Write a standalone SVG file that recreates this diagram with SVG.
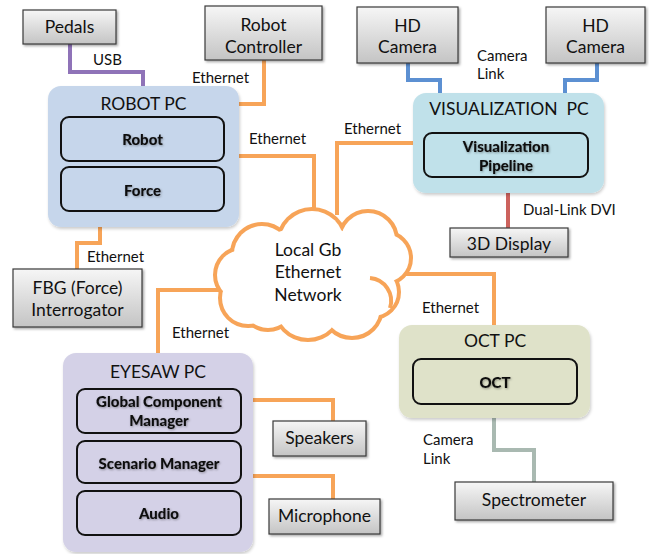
<svg xmlns="http://www.w3.org/2000/svg" width="649" height="554" viewBox="0 0 649 554">
  <defs>
    <linearGradient id="gray" x1="0" y1="0" x2="0" y2="1">
      <stop offset="0" stop-color="#f6f6f6"/>
      <stop offset="1" stop-color="#c4c4c4"/>
    </linearGradient>
    <filter id="shadow" x="-10%" y="-10%" width="130%" height="140%">
      <feDropShadow dx="1.5" dy="1.5" stdDeviation="1" flood-color="#000" flood-opacity="0.35"/>
    </filter>
    <filter id="pcshadow" x="-10%" y="-10%" width="130%" height="130%">
      <feDropShadow dx="1" dy="2" stdDeviation="1.5" flood-color="#000" flood-opacity="0.2"/>
    </filter>
    <filter id="tshadow" x="-10%" y="-30%" width="130%" height="170%">
      <feDropShadow dx="0.8" dy="1" stdDeviation="0.8" flood-color="#000" flood-opacity="0.35"/>
    </filter>
  </defs>
  <style>
    text { font-family: Lato, "Open Sans", "Liberation Sans", sans-serif; fill: #111; }
    .dev rect { fill: url(#gray); stroke: #3a3a3a; stroke-width: 1.2; filter: url(#shadow); }
    .dev text { font-size: 17.5px; text-anchor: middle; }
    .pc > rect { stroke: none; filter: url(#pcshadow); }
    .pc .title { font-size: 17.5px; text-anchor: middle; white-space: pre; }
    .inner rect { stroke: #111; stroke-width: 2; }
    .inner text { font-size: 15px; font-weight: 900; text-anchor: middle; filter: url(#tshadow); }
    .lbl { font-size: 15px; }
    .wire { fill: none; stroke-width: 4; }
    .eth { stroke: #f7a458; }
    .usb { stroke: #8f73b8; }
    .cam { stroke: #5c90d2; }
    .dvi { stroke: #cc625d; }
    .spec { stroke: #a9b9b1; }
    .cloud-ring circle { fill: none; stroke: #f7a458; stroke-width: 8; }
    .cloud-fill circle, .cloud-fill ellipse { fill: #fff; stroke: none; }
  </style>

  <rect width="649" height="554" fill="#fff"/>

  <!-- connectors -->
  <g id="connectors">
    <path class="wire usb" d="M70,44 V72 H143 V86"/>
    <path class="wire eth" d="M264,60 V104 H239"/>
    <path class="wire eth" d="M239,156 H314 V218"/>
    <path class="wire eth" d="M413,143 H337 V215"/>
    <path class="wire cam" d="M408,63 V80 H440 V93"/>
    <path class="wire cam" d="M597,63 V80 H565 V93"/>
    <path class="wire dvi" d="M508,193 V228"/>
    <path class="wire eth" d="M405,274 H494 V325"/>
    <path class="wire eth" d="M100,227 V243 H77 V269"/>
    <path class="wire eth" d="M224,290 H158 V353"/>
    <path class="wire eth" d="M253,400 H333 V421"/>
    <path class="wire eth" d="M253,476 H333 V499"/>
    <path class="wire spec" d="M494,418 V450 H534 V482"/>
    <text class="lbl" x="93" y="65">USB</text>
    <text class="lbl" x="192" y="83">Ethernet</text>
    <text class="lbl" x="249" y="144">Ethernet</text>
    <text class="lbl" x="344" y="134">Ethernet</text>
    <text class="lbl" x="477" y="61">Camera</text>
    <text class="lbl" x="477" y="79">Link</text>
    <text class="lbl" x="523" y="215">Dual-Link DVI</text>
    <text class="lbl" x="87" y="262">Ethernet</text>
    <text class="lbl" x="172" y="338">Ethernet</text>
    <text class="lbl" x="422" y="313">Ethernet</text>
    <text class="lbl" x="423" y="445">Camera</text>
    <text class="lbl" x="423" y="464">Link</text>
  </g>

  <!-- network cloud: ring of bumps, interior painted white over the inner half of the stroke -->
  <g id="network">
    <g class="cloud-ring">
      <circle cx="242" cy="275" r="25"/>
      <circle cx="262" cy="254" r="28"/>
      <circle cx="312" cy="243" r="32"/>
      <circle cx="368" cy="240" r="27"/>
      <circle cx="385" cy="258" r="24"/>
      <circle cx="373" cy="292" r="24"/>
      <circle cx="352" cy="308" r="28"/>
      <circle cx="308" cy="306" r="32"/>
      <circle cx="268" cy="303" r="25"/>
      <circle cx="248" cy="298" r="26"/>
    </g>
    <g class="cloud-fill">
      <circle cx="242" cy="275" r="25"/>
      <circle cx="262" cy="254" r="28"/>
      <circle cx="312" cy="243" r="32"/>
      <circle cx="368" cy="240" r="27"/>
      <circle cx="385" cy="258" r="24"/>
      <circle cx="373" cy="292" r="24"/>
      <circle cx="352" cy="308" r="28"/>
      <circle cx="308" cy="306" r="32"/>
      <circle cx="268" cy="303" r="25"/>
      <circle cx="248" cy="298" r="26"/>
      <ellipse cx="312" cy="272" rx="75" ry="45"/>
    </g>
    <path class="wire eth" d="M370,278 A23,23 0 0 1 390,308"/>
    <text x="308" y="256" font-size="17.5" text-anchor="middle">Local Gb</text>
    <text x="308" y="278" font-size="17.5" text-anchor="middle">Ethernet</text>
    <text x="308" y="301" font-size="17.5" text-anchor="middle">Network</text>
  </g>

  <!-- external devices -->
  <g id="pedals" class="dev">
    <rect x="23" y="10" width="93" height="34"/>
    <text x="69.5" y="33">Pedals</text>
  </g>
  <g id="robot-controller" class="dev">
    <rect x="205" y="6" width="117" height="54"/>
    <text x="263.5" y="31">Robot</text>
    <text x="263.5" y="53">Controller</text>
  </g>
  <g id="hd-camera-1" class="dev">
    <rect x="357" y="7" width="101" height="56"/>
    <text x="407.5" y="32">HD</text>
    <text x="407.5" y="53">Camera</text>
  </g>
  <g id="hd-camera-2" class="dev">
    <rect x="546" y="7" width="99" height="56"/>
    <text x="595.5" y="32">HD</text>
    <text x="595.5" y="53">Camera</text>
  </g>
  <g id="display-3d" class="dev">
    <rect x="450" y="228" width="118" height="29"/>
    <text x="509" y="250">3D Display</text>
  </g>
  <g id="fbg-interrogator" class="dev">
    <rect x="13" y="269" width="129" height="58"/>
    <text x="77.5" y="294">FBG (Force)</text>
    <text x="77.5" y="316">Interrogator</text>
  </g>
  <g id="speakers" class="dev">
    <rect x="273" y="421" width="93" height="35"/>
    <text x="319.5" y="444">Speakers</text>
  </g>
  <g id="microphone" class="dev">
    <rect x="269" y="499" width="111" height="35"/>
    <text x="324.5" y="522">Microphone</text>
  </g>
  <g id="spectrometer" class="dev">
    <rect x="455" y="482" width="158" height="38"/>
    <text x="534" y="506">Spectrometer</text>
  </g>

  <!-- computers -->
  <g id="robot-pc" class="pc">
    <rect x="48" y="86" width="191" height="141" rx="13" fill="#c6d6eb"/>
    <text class="title" x="143.5" y="110">ROBOT PC</text>
    <g class="inner">
      <rect x="61" y="117" width="163" height="44" rx="8" fill="#c6d6eb"/>
      <text x="142.5" y="145">Robot</text>
    </g>
    <g class="inner">
      <rect x="61" y="167" width="163" height="44" rx="8" fill="#c6d6eb"/>
      <text x="142.5" y="196">Force</text>
    </g>
  </g>

  <g id="visualization-pc" class="pc">
    <rect x="413" y="93" width="191" height="100" rx="13" fill="#c0e1ea"/>
    <text class="title" x="509" y="115">VISUALIZATION  PC</text>
    <g class="inner">
      <rect x="424" y="133" width="164" height="44" rx="8" fill="#c0e1ea"/>
      <text x="506" y="152">Visualization</text>
      <text x="506" y="171">Pipeline</text>
    </g>
  </g>

  <g id="oct-pc" class="pc">
    <rect x="399" y="325" width="191" height="93" rx="13" fill="#dfe2c9"/>
    <text class="title" x="495" y="347">OCT PC</text>
    <g class="inner">
      <rect x="413" y="359" width="164" height="45" rx="8" fill="#dfe2c9"/>
      <text x="495" y="388">OCT</text>
    </g>
  </g>

  <g id="eyesaw-pc" class="pc">
    <rect x="63" y="353" width="190" height="199" rx="13" fill="#d4d1e7"/>
    <text class="title" x="158" y="378">EYESAW PC</text>
    <g class="inner">
      <rect x="77" y="389" width="164" height="44" rx="8" fill="#d4d1e7"/>
      <text x="159" y="407">Global Component</text>
      <text x="159" y="426">Manager</text>
    </g>
    <g class="inner">
      <rect x="77" y="441" width="164" height="42" rx="8" fill="#d4d1e7"/>
      <text x="159" y="469">Scenario Manager</text>
    </g>
    <g class="inner">
      <rect x="77" y="491" width="164" height="44" rx="8" fill="#d4d1e7"/>
      <text x="159" y="519">Audio</text>
    </g>
  </g>
</svg>
